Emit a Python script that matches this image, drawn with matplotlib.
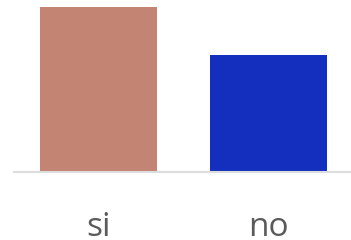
import matplotlib.pyplot as plt

# data
labels = ['si', 'no']
values = [100, 71]
colors = ['#C38473', '#142EBE']

plt.rcParams['font.family'] = ['Open Sans', 'DejaVu Sans']

fig = plt.figure(figsize=(3.51, 2.40), dpi=100)
ax = fig.add_axes([14 / 351, 68 / 240, 337 / 351, 172 / 240])

x = range(len(labels))
ax.bar(x, values, width=0.69, color=colors, zorder=2)

ax.set_xlim(-0.497, 1.485)
ax.set_ylim(0, 104.2)
ax.set_xticks(list(x))
ax.set_xticklabels(labels, fontsize=24, color='#5a5a5a')
ax.tick_params(axis='x', length=0, pad=28)
ax.set_yticks([])

for side in ['top', 'right', 'left']:
    ax.spines[side].set_visible(False)
ax.spines['bottom'].set_color('#dddddd')
ax.spines['bottom'].set_linewidth(1.5)

fig.savefig('out.png', dpi=100)
